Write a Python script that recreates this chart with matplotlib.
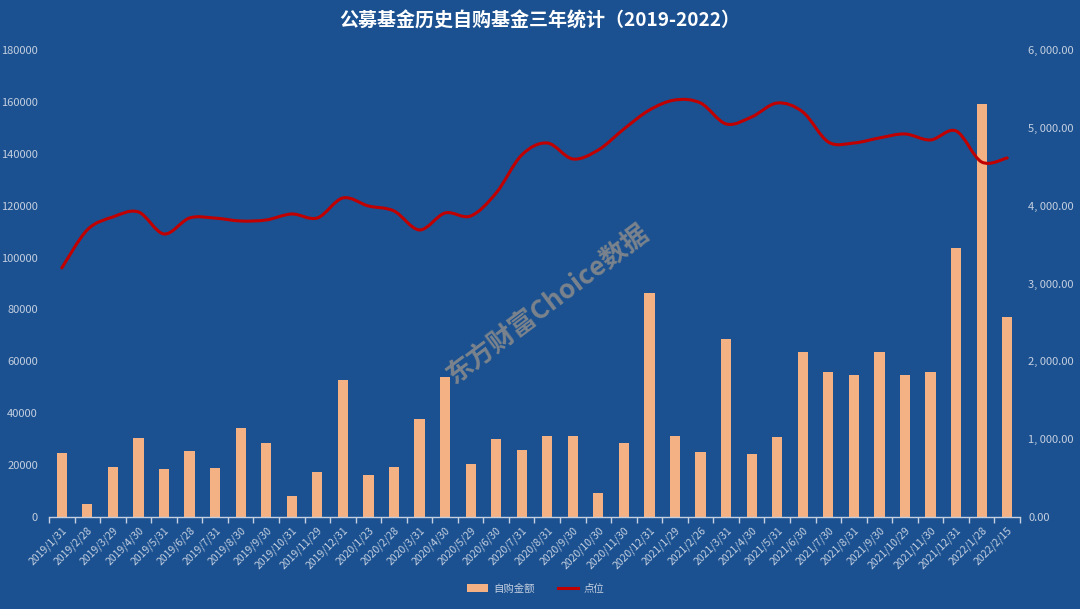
import matplotlib.pyplot as plt
from matplotlib.path import Path
from matplotlib.patches import PathPatch, Patch
from matplotlib.lines import Line2D
from matplotlib.ticker import FuncFormatter

plt.rcParams['font.family'] = ['Noto Sans CJK SC', 'DejaVu Sans']

# data
dates = ['2019/1/31', '2019/2/28', '2019/3/29', '2019/4/30', '2019/5/31', '2019/6/28',
         '2019/7/31', '2019/8/30', '2019/9/30', '2019/10/31', '2019/11/29', '2019/12/31',
         '2020/1/23', '2020/2/28', '2020/3/31', '2020/4/30', '2020/5/29', '2020/6/30',
         '2020/7/31', '2020/8/31', '2020/9/30', '2020/10/30', '2020/11/30', '2020/12/31',
         '2021/1/29', '2021/2/26', '2021/3/31', '2021/4/30', '2021/5/31', '2021/6/30',
         '2021/7/30', '2021/8/31', '2021/9/30', '2021/10/29', '2021/11/30', '2021/12/31',
         '2022/1/28', '2022/2/15']
amount = [24700, 5000, 19300, 30400, 18500, 25400, 18900, 34300, 28500, 8100, 17300, 52800,
          16200, 19300, 37800, 54000, 20400, 30000, 25800, 31200, 31200, 9200, 28500, 86300,
          31200, 25000, 68600, 24300, 30800, 63600, 55900, 54700, 63600, 54700, 55900, 103700,
          159200, 77100]
index_level = [3200, 3690, 3855, 3919, 3636, 3842, 3840, 3803, 3816, 3893, 3842, 4099,
               3996, 3932, 3688, 3906, 3867, 4163, 4651, 4805, 4600, 4716, 4985, 5229,
               5358, 5319, 5050, 5140, 5319, 5204, 4818, 4805, 4870, 4921, 4844, 4960,
               4561, 4613]

bg = '#1B5190'
tick_col = '#C4CFE0'
bar_col = '#F4B183'
line_col = '#C00000'

fig = plt.figure(figsize=(10.8, 6.09), dpi=100)
fig.patch.set_facecolor(bg)
ax = fig.add_axes([0.0454, 0.1511, 0.8990, 0.7668])
ax.set_facecolor(bg)
ax2 = ax.twinx()

x = list(range(len(dates)))
ax.bar(x, amount, width=0.4, color=bar_col, zorder=2)
ax.set_xlim(-0.5, len(dates) - 0.5)
ax.set_ylim(0, 180000)
ax.set_yticks(range(0, 180001, 20000))
ax2.set_ylim(0, 6000)
ax2.set_yticks(range(0, 6001, 1000))
ax2.yaxis.set_major_formatter(FuncFormatter(lambda v, p: f'{v:,.2f}'.replace(',', ', ')))

# smooth curve through the points (Catmull-Rom as bezier segments)
verts = [(x[0], index_level[0])]
codes = [Path.MOVETO]
n = len(x)
for i in range(n - 1):
    p0 = (x[max(i - 1, 0)], index_level[max(i - 1, 0)])
    p1 = (x[i], index_level[i])
    p2 = (x[i + 1], index_level[i + 1])
    p3 = (x[min(i + 2, n - 1)], index_level[min(i + 2, n - 1)])
    c1 = (p1[0] + (p2[0] - p0[0]) / 6, p1[1] + (p2[1] - p0[1]) / 6)
    c2 = (p2[0] - (p3[0] - p1[0]) / 6, p2[1] - (p3[1] - p1[1]) / 6)
    verts += [c1, c2, p2]
    codes += [Path.CURVE4] * 3
ax2.add_patch(PathPatch(Path(verts, codes), facecolor='none', edgecolor=line_col,
                        lw=2.2, zorder=3, capstyle='round', joinstyle='round'))

for a in (ax, ax2):
    for s in a.spines.values():
        s.set_visible(False)
ax.spines['bottom'].set_visible(True)
ax.spines['bottom'].set_color(tick_col)
ax.spines['bottom'].set_linewidth(1)

ax.set_xticks(x)
ax.set_xticklabels(dates, rotation=45, ha='right', rotation_mode='anchor',
                   fontsize=7.5, color=tick_col)
ax.tick_params(axis='x', which='major', length=0, pad=6)
ax.set_xticks([i - 0.5 for i in range(len(dates) + 1)], minor=True)
ax.tick_params(axis='x', which='minor', length=4, color=tick_col, width=1)
ax.tick_params(axis='y', length=0, labelsize=8, labelcolor=tick_col, pad=8)
ax2.tick_params(axis='y', length=0, labelsize=8, labelcolor=tick_col, pad=6)

fig.text(0.5, 0.966, '公募基金历史自购基金三年统计（2019-2022）', ha='center', va='center',
         fontsize=13.7, fontweight='bold', color='white')

# watermark
fig.text(0.507, 0.5, '东方财富Choice数据', ha='center', va='center', rotation=37,
         fontsize=19, fontweight='bold', fontstyle='italic', color='#8C8C8C', alpha=0.85)

handles = [Patch(facecolor=bar_col, edgecolor='none'),
           Line2D([0], [0], color=line_col, lw=2.2)]
fig.legend(handles, ['自购金额', '点位'], loc='center', bbox_to_anchor=(0.496, 0.033),
           ncol=2, frameon=False, fontsize=7.5, labelcolor=tick_col,
           handlelength=2.0, handleheight=0.8, handletextpad=0.5, columnspacing=2.2)

fig.savefig('out.png', dpi=100, facecolor=bg)
